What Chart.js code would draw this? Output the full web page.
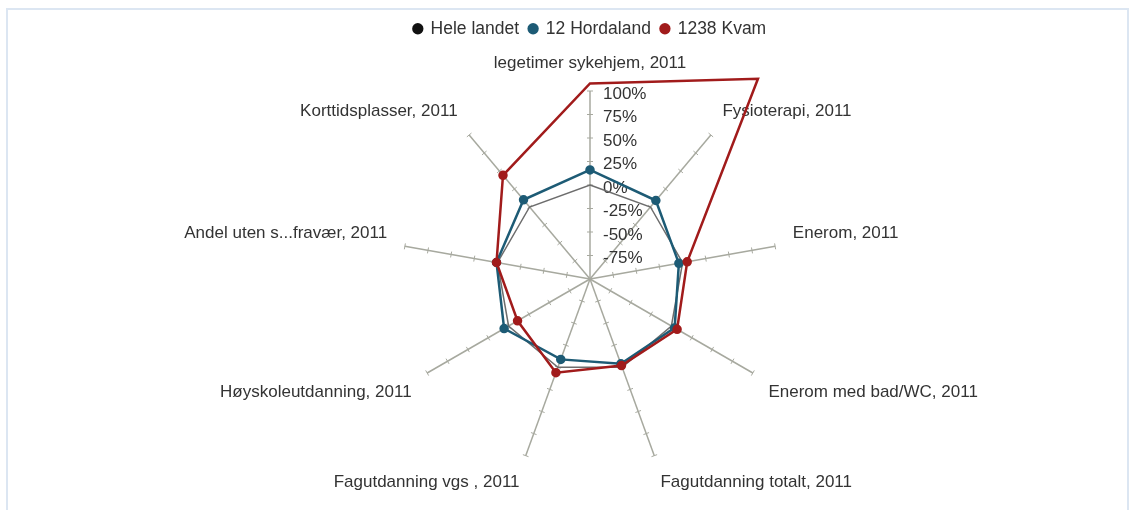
<!DOCTYPE html>
<html>
<head>
<meta charset="utf-8">
<title>Kvam radar</title>
<script src="https://cdn.jsdelivr.net/npm/chart.js@4.4.1/dist/chart.umd.min.js"></script>
<style>
    html, body { margin: 0; padding: 0; background: #fff; overflow: hidden; }
    body { width: 1137px; height: 510px; position: relative; }
    #frame { position: absolute; left: 6px; top: 8px; width: 1119px; height: 520px; border: 2px solid #dce6f2; }
    #wrap { position: absolute; left: 0; top: 0; width: 1137px; height: 510px; }
</style>
</head>
<body>
<div id="frame"></div>
<div id="wrap"><canvas id="radarChart" width="1137" height="510"></canvas></div>
<script>
// Categories, clockwise from the top spoke
const categories = [
    'legetimer sykehjem, 2011',
    'Fysioterapi, 2011',
    'Enerom, 2011',
    'Enerom med bad/WC, 2011',
    'Fagutdanning totalt, 2011',
    'Fagutdanning vgs , 2011',
    'Høyskoleutdanning, 2011',
    'Andel uten s...fravær, 2011',
    'Korttidsplasser, 2011'
];

// Values in % relative to the national level
const heleLandet = [0, 0, 0, 0, 0, 0, 0, 0, 0];
const hordaland = [16, 9, -4, 4, -4, -9, 5.5, 1, 10];
const kvam = [108, 178, 5, 7, -2, 6, -11, 1, 44];

const tickMin = -100;
const tickMax = 100;
const tickStep = 25;

const axisColor = '#a7a99f';
const textColor = '#333333';
const fontFamily = '"Liberation Sans", Arial, sans-serif';

// push the plot a bit further down from the legend
const legendGap = {
    id: 'legendGap',
    beforeInit(chart) {
        const fit = chart.legend.fit;
        chart.legend.fit = function() {
            fit.call(this);
            this.height += 43;
        };
    }
};

// tick marks on every spoke, value labels and category labels
const radarDecor = {
    id: 'radarDecor',
    beforeDatasetsDraw(chart) {
        const scale = chart.scales.r;
        const ctx = chart.ctx;
        ctx.save();

        ctx.strokeStyle = axisColor;
        ctx.lineWidth = 1;
        categories.forEach((_, i) => {
            const a = scale.getIndexAngle(i);
            const nx = Math.cos(a), ny = Math.sin(a);
            scale.ticks.forEach(t => {
                if (t.value === scale.min) return;
                const p = scale.getPointPositionForValue(i, t.value);
                ctx.beginPath();
                ctx.moveTo(p.x - nx * 3, p.y - ny * 3);
                ctx.lineTo(p.x + nx * 3, p.y + ny * 3);
                ctx.stroke();
            });
        });

        ctx.fillStyle = textColor;
        ctx.font = '17px ' + fontFamily;
        ctx.textAlign = 'left';
        ctx.textBaseline = 'middle';
        scale.ticks.forEach(t => {
            if (t.value === scale.min) return;
            const p = scale.getPointPositionForValue(0, t.value);
            ctx.fillText(t.value + '%', p.x + 13, p.y + 3);
        });

        const lineH = 20;
        categories.forEach((label, i) => {
            const p = scale.getPointPosition(i, scale.drawingArea + 18);
            const deg = Math.round(scale.getIndexAngle(i) * 180 / Math.PI) % 360;
            let align = 'center';
            if (deg > 0 && deg < 180) align = 'left';
            else if (deg > 180) align = 'right';
            let y = p.y + lineH / 2;
            if (deg < 90 || deg > 270) y = p.y - lineH / 2;
            else if (deg === 90 || deg === 270) y = p.y;
            ctx.textAlign = align;
            ctx.fillText(label, p.x, y);
        });

        ctx.restore();
    }
};

const ctx = document.getElementById('radarChart').getContext('2d');

new Chart(ctx, {
    type: 'radar',
    data: {
        labels: categories,
        datasets: [
            {
                label: 'Hele landet',
                data: heleLandet,
                borderColor: '#6d6d6d',
                backgroundColor: '#111111',
                borderWidth: 1.5,
                pointRadius: 0,
                pointHoverRadius: 0,
                fill: false,
                clip: false,
                order: 3
            },
            {
                label: '12 Hordaland',
                data: hordaland,
                borderColor: '#1d5b75',
                backgroundColor: '#1d5b75',
                borderWidth: 2.5,
                pointRadius: 3.5,
                fill: false,
                clip: false,
                order: 2
            },
            {
                label: '1238 Kvam',
                data: kvam,
                borderColor: '#a11b1b',
                backgroundColor: '#a11b1b',
                borderWidth: 2.5,
                pointRadius: 3.5,
                fill: false,
                clip: false,
                order: 1
            }
        ]
    },
    options: {
        responsive: false,
        animation: false,
        layout: {
            padding: { top: 10, left: 43, bottom: 42 }
        },
        elements: {
            line: { tension: 0 }
        },
        plugins: {
            legend: {
                position: 'top',
                labels: {
                    usePointStyle: true,
                    pointStyle: 'circle',
                    boxWidth: 8,
                    boxHeight: 8,
                    padding: 10,
                    color: textColor,
                    font: { family: fontFamily, size: 17.5 },
                    sort: (a, b) => a.datasetIndex - b.datasetIndex,
                    generateLabels: function(chart) {
                        return Chart.defaults.plugins.legend.labels.generateLabels(chart).map(item => {
                            item.strokeStyle = item.fillStyle;
                            item.lineWidth = 0;
                            return item;
                        });
                    }
                }
            },
            tooltip: { enabled: false }
        },
        scales: {
            r: {
                min: tickMin,
                max: tickMax,
                ticks: { stepSize: tickStep, display: false },
                grid: { display: false },
                angleLines: { color: axisColor, lineWidth: 1.5 },
                pointLabels: { display: false }
            }
        }
    },
    plugins: [legendGap, radarDecor]
});
</script>
</body>
</html>
